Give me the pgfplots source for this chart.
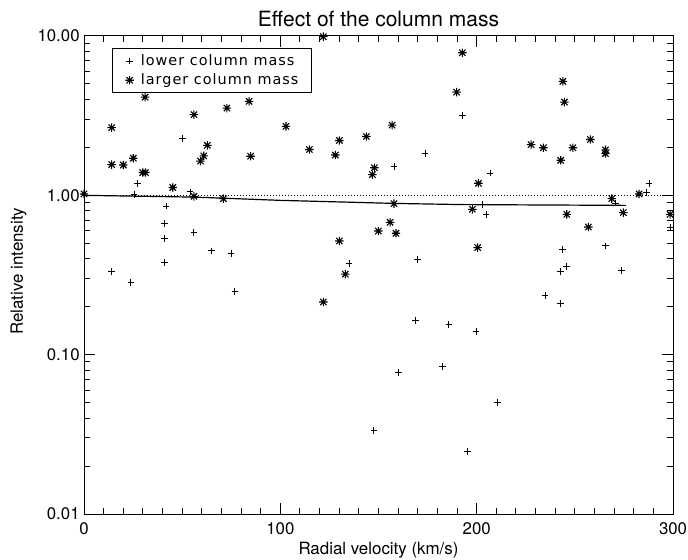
\documentclass[border=0pt]{standalone}
\usepackage{pgfplots}
\pgfplotsset{compat=1.18}
\usepackage{fontspec}
\setmainfont{TeX Gyre Heros}
\newfontfamily\legfont[LetterSpace=7]{DejaVu Sans}

\pgfdeclareplotmark{ast8}{%
  \pgfpathmoveto{\pgfqpoint{-\pgfplotmarksize}{0pt}}%
  \pgfpathlineto{\pgfqpoint{\pgfplotmarksize}{0pt}}%
  \pgfpathmoveto{\pgfqpoint{0pt}{-\pgfplotmarksize}}%
  \pgfpathlineto{\pgfqpoint{0pt}{\pgfplotmarksize}}%
  \pgfpathmoveto{\pgfqpoint{-0.75\pgfplotmarksize}{-0.75\pgfplotmarksize}}%
  \pgfpathlineto{\pgfqpoint{0.75\pgfplotmarksize}{0.75\pgfplotmarksize}}%
  \pgfpathmoveto{\pgfqpoint{-0.75\pgfplotmarksize}{0.75\pgfplotmarksize}}%
  \pgfpathlineto{\pgfqpoint{0.75\pgfplotmarksize}{-0.75\pgfplotmarksize}}%
  \pgfusepathqstroke}

\begin{document}
\begin{tikzpicture}
\begin{axis}[
  scale only axis, width=294.5pt, height=239pt,
  ymode=log, xmin=0, xmax=300, ymin=0.01, ymax=10,
  /pgf/number format/assume math mode=true,
  xtick={0,100,200,300}, xticklabels={0,100,200,300}, minor x tick num=9,
  ytick={0.01,0.1,1,10}, yticklabels={0.01,0.10,1.00,10.00},
  minor ytick={0.02,0.03,0.04,0.05,0.06,0.07,0.08,0.09,0.2,0.3,0.4,0.5,0.6,0.7,0.8,0.9,2,3,4,5,6,7,8,9},
  tick align=inside,
  major tick length=5.5pt, minor tick length=3pt,
  tick style={black, line width=0.5pt},
  axis line style={line width=0.5pt},
  tick label style={font=\fontsize{8.4}{10}\selectfont},
  xticklabel style={anchor=center, inner sep=0pt, yshift=-7.5pt},
  yticklabel style={anchor=east, inner sep=0pt, xshift=-2pt},
  label style={font=\fontsize{8.45}{10}\selectfont},
  xlabel={Radial velocity (km/s)},
  ylabel={Relative intensity},
  xlabel style={at={(axis description cs:0.5,-0.0753)}, anchor=center},
  ylabel style={at={(axis description cs:-0.111,0.508)}, anchor=center},
  title={Effect of the column mass},
  every axis title/.style={at={(axis description cs:0.5,1.0356)}, anchor=center, font=\fontsize{10.5}{12}\selectfont},
  legend style={at={(axis description cs:0.0475,0.975)}, anchor=north west, draw=black, line width=0.5pt,
    font=\legfont\fontsize{7.2}{8.5}\selectfont, inner xsep=6.5pt, inner ysep=2.6pt, row sep=2.2pt, column sep=3.5pt,
    nodes={inner sep=0pt, anchor=west, text height=5.8pt, text depth=1.6pt}},
  legend cell align=left,
  legend image code/.code={\draw[#1] plot coordinates {(0pt,0pt)};},
]
\addplot[only marks, mark=+, mark size=1.7pt, mark options={black, line width=0.5pt}] coordinates {
(25.5,1.01) (50.1,2.27) (27.2,1.18) (54.0,1.05) (192.7,3.17) (173.7,1.84) (157.9,1.51)
(206.8,1.38) (287.8,1.19) (286.6,1.04) (41.8,0.857) (40.9,0.667) (40.9,0.537) (56.0,0.586)
(65.0,0.448) (74.9,0.433) (40.9,0.378) (14.1,0.332) (23.9,0.284) (76.9,0.25) (135.0,0.375)
(169.8,0.397) (168.8,0.164) (185.9,0.155) (270.8,0.895) (202.9,0.874) (204.8,0.76) (298.5,0.627)
(265.6,0.481) (243.7,0.458) (245.7,0.359) (242.5,0.334) (273.6,0.339) (234.8,0.235) (242.5,0.209)
(199.7,0.139) (147.7,0.0336) (160.1,0.0773) (182.7,0.0843) (210.7,0.0501) (195.4,0.0248)
};
\addplot[only marks, mark=ast8, mark size=2.1pt, mark options={black, line width=0.55pt}] coordinates {
(0,1.02) (31.1,4.13) (14.1,2.66) (56.0,3.21) (72.8,3.53) (84.1,3.89) (62.8,2.06) (61.0,1.77)
(59.3,1.64) (14.1,1.56) (20.0,1.55) (25.1,1.71) (29.9,1.39) (31.3,1.39) (84.9,1.76) (45.2,1.12)
(56.0,0.986) (71.0,0.953) (121.9,9.9) (192.7,7.85) (189.8,4.44) (102.9,2.71) (156.9,2.76)
(143.8,2.34) (130.1,2.21) (114.8,1.94) (128.0,1.79) (147.9,1.49) (146.9,1.35) (243.9,5.19)
(244.7,3.85) (257.9,2.24) (227.7,2.08) (234.0,1.99) (249.0,1.99) (242.8,1.66) (265.6,1.93)
(265.6,1.83) (200.9,1.19) (282.7,1.02) (268.8,0.953) (157.9,0.887) (155.9,0.677) (149.9,0.597)
(158.9,0.578) (130.1,0.517) (133.1,0.32) (121.9,0.214) (197.8,0.817) (245.9,0.76) (274.7,0.779)
(256.9,0.633) (298.5,0.76) (200.5,0.47)
};
\addplot[black, line width=0.5pt, dash pattern=on 0.5pt off 1pt, forget plot] coordinates {(0,1) (300,1)};
\addplot[black, line width=0.6pt, forget plot] coordinates {(0,1.0) (56,0.975) (100,0.93) (158,0.89) (192,0.875) (276,0.865)};
\legend{lower column mass, larger column mass}
\end{axis}
\pgfresetboundingbox
\path ([xshift=-42pt,yshift=-22.5pt]current axis.south west) rectangle ([xshift=7.5pt,yshift=18pt]current axis.north east);
\end{tikzpicture}
\end{document}
